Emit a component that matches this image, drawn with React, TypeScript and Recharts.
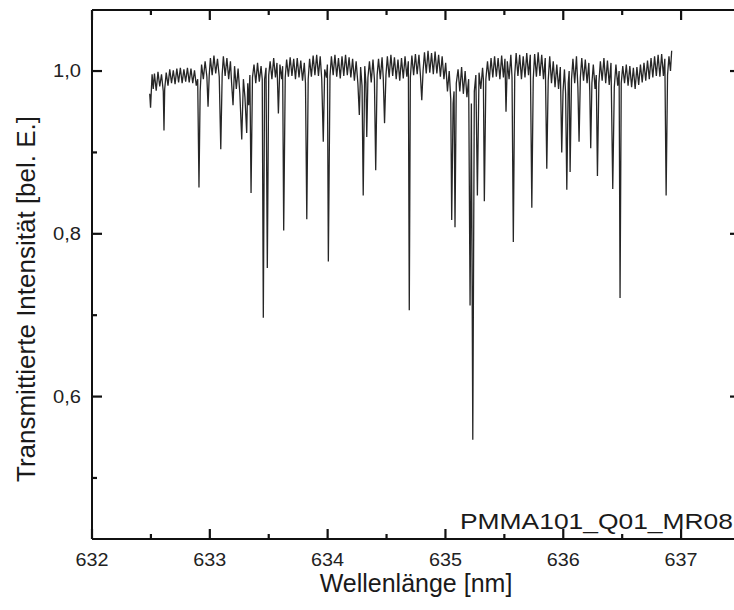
import React from "react";
import { LineChart, Line, XAxis, YAxis } from "recharts";

// axis ticks
const xTicks = [632, 632.5, 633, 633.5, 634, 634.5, 635, 635.5, 636, 636.5, 637, 637.5];
const xMajor = [632, 633, 634, 635, 636, 637];
const yTicks = [0.5, 0.6, 0.7, 0.8, 0.9, 1.0];
const yMajor = [0.6, 0.8, 1.0];

const xTitle = "Wellenlänge [nm]";
const yTitle = "Transmittierte Intensität [bel. E.]";
const sampleName = "PMMA101_Q01_MR08";

// spectrum: [wavelength nm, transmission]
const spectrum632 = [
  [632.49, 0.972], [632.497, 0.955], [632.51, 0.996], [632.52, 0.978], [632.53, 0.997],
  [632.545, 0.976], [632.56, 0.999], [632.575, 0.981], [632.59, 0.996], [632.605, 0.975],
  [632.611, 0.927], [632.617, 0.978], [632.63, 0.998], [632.645, 0.982], [632.66, 1.002],
  [632.675, 0.985], [632.69, 1.001], [632.705, 0.984], [632.72, 1.003], [632.735, 0.986],
  [632.75, 1.004], [632.765, 0.985], [632.78, 1.002], [632.795, 0.987], [632.81, 1.004],
  [632.825, 0.986], [632.84, 1.003], [632.855, 0.985], [632.87, 1.001], [632.885, 0.982],
  [632.897, 0.99], [632.908, 0.857], [632.918, 0.975], [632.93, 1.008], [632.945, 0.99],
  [632.96, 1.012], [632.975, 0.993], [632.985, 0.956], [632.995, 0.995], [633.005, 1.016],
  [633.02, 0.995], [633.035, 1.019], [633.05, 0.997], [633.065, 1.015], [633.08, 0.993],
  [633.093, 0.904], [633.105, 0.996], [633.115, 1.018], [633.13, 0.994], [633.145, 1.016],
  [633.16, 0.99], [633.175, 1.012], [633.185, 0.985], [633.197, 0.958], [633.21, 1.006],
  [633.225, 0.978], [633.24, 1.003], [633.255, 0.972], [633.271, 0.916], [633.285, 0.99],
  [633.298, 0.968], [633.313, 0.924], [633.322, 0.985], [633.33, 0.958], [633.34, 0.995],
  [633.35, 0.85], [633.362, 0.992], [633.375, 1.008], [633.39, 0.985], [633.405, 1.01],
  [633.42, 0.987], [633.435, 1.006], [633.445, 0.99], [633.454, 0.697], [633.465, 0.99],
  [633.477, 1.004], [633.488, 0.758], [633.5, 0.995],
];

const spectrum633 = [
  [633.512, 1.012], [633.527, 0.99], [633.542, 1.016], [633.557, 0.992], [633.57, 1.01],
  [633.582, 0.948], [633.595, 1.008], [633.61, 0.99], [633.618, 1.006], [633.627, 0.804],
  [633.64, 0.992], [633.652, 1.014], [633.667, 0.993], [633.682, 1.017], [633.697, 0.994],
  [633.712, 1.015], [633.727, 0.99], [633.742, 1.016], [633.757, 0.992], [633.772, 1.013],
  [633.787, 0.988], [633.802, 1.01], [633.812, 0.985], [633.823, 0.818], [633.835, 0.99],
  [633.847, 1.015], [633.862, 0.993], [633.877, 1.019], [633.892, 0.995], [633.907, 1.02],
  [633.922, 0.994], [633.937, 1.018], [633.95, 0.99], [633.963, 0.913], [633.975, 1.002],
  [633.99, 0.992], [633.998, 1.008], [634.006, 0.766], [634.02, 0.994], [634.032, 1.018],
  [634.047, 0.995], [634.062, 1.02], [634.077, 0.993], [634.092, 1.016], [634.107, 0.991],
  [634.122, 1.018], [634.137, 0.994], [634.152, 1.02], [634.167, 0.995], [634.182, 1.017],
  [634.197, 0.992], [634.212, 1.015], [634.227, 0.988], [634.242, 1.012], [634.257, 0.984],
  [634.269, 0.946], [634.28, 1.005], [634.292, 0.982], [634.302, 0.847], [634.315, 1.006],
  [634.325, 0.985], [634.332, 0.919], [634.342, 0.992], [634.355, 1.012], [634.37, 0.986],
  [634.385, 1.014], [634.397, 0.99], [634.408, 0.878], [634.42, 0.995], [634.432, 1.015],
  [634.447, 0.99], [634.462, 1.017], [634.472, 0.992], [634.483, 0.936], [634.495, 0.995],
];

const spectrum634 = [
  [634.507, 1.018], [634.522, 0.992], [634.537, 1.02], [634.552, 0.994], [634.567, 1.017],
  [634.582, 0.99], [634.597, 1.014], [634.612, 0.988], [634.627, 1.016], [634.642, 0.991],
  [634.657, 1.018], [634.672, 0.993], [634.685, 1.012], [634.693, 0.706], [634.702, 0.992],
  [634.715, 1.019], [634.73, 0.995], [634.745, 1.021], [634.76, 0.996], [634.775, 1.02],
  [634.788, 0.994], [634.799, 0.964], [634.81, 1.0], [634.822, 1.023], [634.837, 0.997],
  [634.852, 1.025], [634.867, 0.998], [634.882, 1.022], [634.897, 0.996], [634.912, 1.024],
  [634.927, 0.997], [634.942, 1.02], [634.957, 0.993], [634.972, 1.018], [634.987, 0.99],
  [635.002, 1.01], [635.017, 0.975], [635.032, 1.0], [635.045, 0.965], [635.053, 0.817],
  [635.065, 0.96], [635.073, 0.975], [635.081, 0.808], [635.092, 0.985], [635.107, 1.002],
  [635.122, 0.975], [635.137, 1.005], [635.152, 0.972], [635.167, 1.0], [635.182, 0.968],
  [635.197, 0.99], [635.209, 0.712], [635.22, 0.96], [635.232, 0.547], [635.245, 0.975],
  [635.258, 0.995], [635.271, 0.847], [635.285, 0.998], [635.3, 0.978], [635.315, 1.004],
  [635.322, 0.99], [635.33, 0.84], [635.343, 0.99], [635.357, 1.012], [635.372, 0.988],
  [635.387, 1.016], [635.402, 0.992], [635.417, 1.018], [635.432, 0.993], [635.447, 1.016],
  [635.462, 0.99], [635.477, 1.019], [635.492, 0.992],
];

const spectrum635 = [
  [635.505, 1.015], [635.514, 0.95], [635.525, 1.012], [635.54, 0.99], [635.555, 1.02],
  [635.565, 0.992], [635.576, 0.79], [635.588, 0.995], [635.6, 1.022], [635.615, 0.994],
  [635.63, 1.02], [635.645, 0.99], [635.66, 1.018], [635.675, 0.992], [635.69, 1.022],
  [635.705, 0.995], [635.72, 1.02], [635.733, 0.832], [635.745, 0.99], [635.757, 1.021],
  [635.772, 0.993], [635.787, 1.023], [635.802, 0.994], [635.817, 1.02], [635.832, 0.99],
  [635.847, 1.016], [635.86, 0.88], [635.872, 0.988], [635.885, 1.018], [635.9, 0.985],
  [635.915, 1.012], [635.93, 0.98], [635.945, 1.008], [635.96, 0.978], [635.975, 1.005],
  [635.987, 0.9], [635.998, 0.975], [636.01, 1.002], [636.02, 0.972], [636.03, 0.854],
  [636.042, 0.985], [636.05, 1.0], [636.058, 0.876], [636.07, 0.99], [636.082, 1.015],
  [636.097, 0.985], [636.112, 1.018], [636.124, 0.98], [636.134, 0.913], [636.145, 0.992],
  [636.157, 1.016], [636.172, 0.988], [636.187, 1.014], [636.202, 0.985], [636.217, 1.01],
  [636.225, 0.975], [636.233, 0.905], [636.243, 0.985], [636.255, 1.008], [636.27, 0.978],
  [636.28, 0.995], [636.29, 0.871], [636.302, 0.985], [636.315, 1.012], [636.33, 0.988],
  [636.345, 1.016], [636.36, 0.985], [636.375, 1.013], [636.39, 0.983], [636.405, 1.01],
  [636.42, 0.855], [636.433, 0.98], [636.447, 1.008], [636.462, 0.982], [636.474, 1.0],
  [636.482, 0.721], [636.492, 0.985], [636.505, 1.006], [636.52, 0.985], [636.535, 1.008],
  [636.55, 0.982], [636.565, 1.006], [636.58, 0.98], [636.595, 1.004], [636.61, 0.978],
  [636.625, 1.005], [636.64, 0.983], [636.655, 1.008], [636.67, 0.986], [636.685, 1.01],
  [636.7, 0.988], [636.715, 1.013], [636.73, 0.99], [636.745, 1.016], [636.76, 0.992],
  [636.775, 1.018], [636.79, 0.994], [636.805, 1.02], [636.82, 0.993], [636.835, 1.021],
  [636.85, 0.994], [636.862, 1.015], [636.873, 0.847], [636.885, 0.995], [636.897, 1.018],
  [636.91, 1.0], [636.92, 1.025],
];

const data = [...spectrum632, ...spectrum633, ...spectrum634, ...spectrum635].map(
  ([nm, t]) => ({ nm, t })
);

const FONT = "'Liberation Sans', Arial, Helvetica, sans-serif";
const AXIS = "#111";
const MAJOR_LEN = 10;
const MINOR_LEN = 5;
const TICK_W = 2.2;

// with tickSize = tickMargin = 0 the tick props sit right on the axis line
const BottomTick = ({ x, y, payload }: any) => {
  const major = xMajor.includes(payload.value);
  const len = major ? MAJOR_LEN : MINOR_LEN;
  return (
    <g>
      <rect x={x - TICK_W / 2} y={y - len} width={TICK_W} height={len} fill={AXIS} />
      {major && (
        <text x={x} y={y + 27} textAnchor="middle" fontSize={18} fontFamily={FONT} fill="#222"
          textLength={33} lengthAdjust="spacingAndGlyphs">
          {payload.value}
        </text>
      )}
    </g>
  );
};

const TopTick = ({ x, y, payload }: any) => {
  const len = xMajor.includes(payload.value) ? MAJOR_LEN : MINOR_LEN;
  return <rect x={x - TICK_W / 2} y={y} width={TICK_W} height={len} fill={AXIS} />;
};

const LeftTick = ({ x, y, payload }: any) => {
  const major = yMajor.includes(payload.value);
  const len = major ? MAJOR_LEN : MINOR_LEN;
  return (
    <g>
      <rect x={x} y={y - TICK_W / 2} width={len} height={TICK_W} fill={AXIS} />
      {major && (
        <text x={x - 11} y={y + 6.3} textAnchor="end" fontSize={18} fontFamily={FONT} fill="#222"
          textLength={28} lengthAdjust="spacingAndGlyphs">
          {payload.value.toFixed(1).replace(".", ",")}
        </text>
      )}
    </g>
  );
};

const RightTick = ({ x, y, payload }: any) => {
  const len = yMajor.includes(payload.value) ? MAJOR_LEN : MINOR_LEN;
  return <rect x={x - len} y={y - TICK_W / 2} width={len} height={TICK_W} fill={AXIS} />;
};

const axisCommon = {
  type: "number" as const,
  interval: 0 as const,
  tickSize: 0,
  tickMargin: 0,
  tickLine: false,
  axisLine: { stroke: AXIS, strokeWidth: 2 },
  allowDataOverflow: true,
};

export default function App() {
  return (
    <div style={{ position: "absolute", left: 0, top: 0, width: 734, height: 610, overflow: "hidden", background: "#fff" }}>
      <LineChart width={742} height={610} data={data} margin={{ top: 9, right: 1, bottom: 0, left: 0 }}>
        <XAxis
          {...axisCommon}
          xAxisId="bottom"
          dataKey="nm"
          domain={[632, 637.5]}
          ticks={xTicks}
          tick={<BottomTick />}
          height={71}
        />
        <XAxis
          {...axisCommon}
          xAxisId="top"
          orientation="top"
          dataKey="nm"
          domain={[632, 637.5]}
          ticks={xTicks}
          tick={<TopTick />}
          height={1}
        />
        <YAxis
          {...axisCommon}
          yAxisId="left"
          domain={[0.425, 1.075]}
          ticks={yTicks}
          tick={<LeftTick />}
          width={92}
        />
        <YAxis
          {...axisCommon}
          yAxisId="right"
          orientation="right"
          domain={[0.425, 1.075]}
          ticks={yTicks}
          tick={<RightTick />}
          width={1}
        />
        <Line
          xAxisId="bottom"
          yAxisId="left"
          dataKey="t"
          type="linear"
          stroke="#262626"
          strokeWidth={1.3}
          dot={false}
          isAnimationActive={false}
        />
      </LineChart>
      <svg width={734} height={610} style={{ position: "absolute", left: 0, top: 0, pointerEvents: "none" }}>
        <text x={416} y={592} textAnchor="middle" fontSize={25} fontFamily={FONT} fill="#1a1a1a">
          {xTitle}
        </text>
        <text transform="translate(35,299) rotate(-90)" textAnchor="middle" fontSize={26} fontFamily={FONT} fill="#1a1a1a">
          {yTitle}
        </text>
        <text x={460} y={529} fontSize={22} fontFamily={FONT} fill="#1a1a1a" textLength={273} lengthAdjust="spacingAndGlyphs">
          {sampleName}
        </text>
      </svg>
    </div>
  );
}
